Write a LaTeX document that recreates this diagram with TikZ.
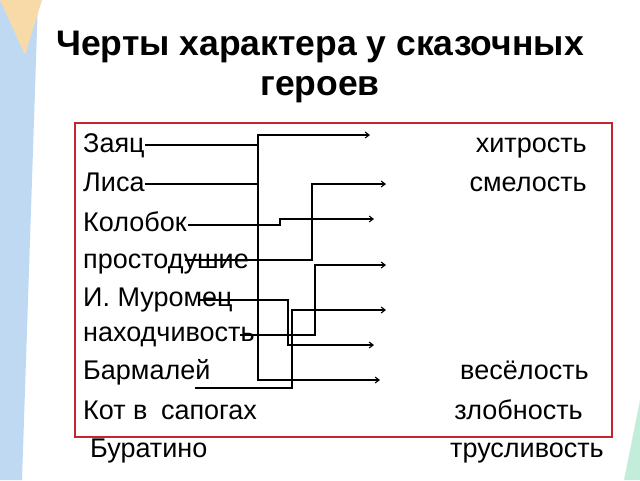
\documentclass[tikz,border=0pt]{standalone}
\usepackage{fontspec}
\setmainfont{Liberation Sans}
\usetikzlibrary{arrows.meta}
\definecolor{couleurcadre}{HTML}{C0272D}
\definecolor{couleurbleu}{HTML}{BFD9F2}
\definecolor{couleurorange}{HTML}{F8D9A8}
\newcommand{\liencoude}[4]{\draw[fleche] (#1) -- (#2,#3) |- (#4);}
\tikzset{
	heros/.style={anchor=base west, inner sep=0pt, font=\fontsize{27}{27}\selectfont},
	trait/.style={anchor=base east, inner sep=0pt, font=\fontsize{27}{27}\selectfont},
	fleche/.style={-{Straight Barb[length=4pt,width=6pt]}, line width=1.1pt}
}
\begin{document}
\begin{tikzpicture}[x=1pt,y=-1pt]
	\useasboundingbox (0,0) rectangle (640,480);
	% fond
	\fill[couleurbleu] (0,0) -- (38,0) -- (22,480) -- (0,480) -- cycle;
	\fill[couleurorange] (0,0) -- (42,0) -- (25,55) -- cycle;
	\fill[couleurbleu!80!green!60] (640,400) -- (640,480) -- (624,480) -- cycle;
	% titre
	\node[font=\bfseries\fontsize{35.5}{40}\selectfont, align=center] (titre) at (320,67) {Черты характера у сказочных\\героев};
	\draw[couleurcadre, line width=1.8pt] (75,123) rectangle (612,437);
	% heros
	\node[heros] (zayac) at (83,152) {Заяц};
	\node[heros] (lisa) at (83,191) {Лиса};
	\node[heros] (kolobok) at (83,231) {Колобок};
	\node[heros] (prostod) at (83,268) {простодушие};
	\node[heros] (muromets) at (83,306) {И. Муромец};
	\node[heros] (nakhod) at (83,341) {находчивость};
	\node[heros] (barmaley) at (83,379) {Бармалей};
	\node[heros] (kot) at (83,419) {Кот в\enspace сапогах};
	\node[heros] (buratino) at (90,457) {Буратино};
	% traits
	\node[trait] (khitrost) at (587,152) {хитрость};
	\node[trait] (smelost) at (587,191) {смелость};
	\node[trait] (veselost) at (589,379) {весёлость};
	\node[trait] (zlobnost) at (583,419) {злобность};
	\node[trait] (truslivost) at (604,457) {трусливость};
	% points
	\coordinate (dzayac) at (145,145);
	\coordinate (dlisa) at (145,184);
	\coordinate (dkolobok) at (188,225);
	\coordinate (dprostod) at (185,260);
	\coordinate (dmuromets) at (200,300);
	\coordinate (dnakhod) at (240,335);
	\coordinate (dbarmaley) at (195,388);
	\coordinate (f1) at (370,135);
	\coordinate (f2) at (386,184);
	\coordinate (f3) at (374,219);
	\coordinate (f4) at (386,265);
	\coordinate (f5) at (386,310);
	\coordinate (f6) at (374,345);
	\coordinate (f7) at (380,380);
	% liens
	\liencoude{dzayac}{258}{145}{f7}
	\liencoude{dlisa}{258}{184}{f1}
	\liencoude{dkolobok}{280}{225}{f3}
	\liencoude{dprostod}{312}{260}{f2}
	\liencoude{dmuromets}{288}{300}{f6}
	\liencoude{dnakhod}{315}{335}{f4}
	\liencoude{dbarmaley}{292}{388}{f5}
\end{tikzpicture}
\end{document}
